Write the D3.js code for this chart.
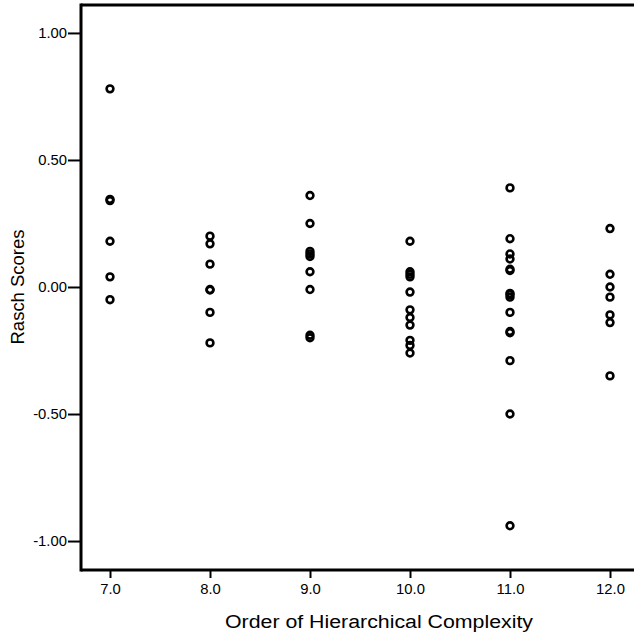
<!DOCTYPE html>
<html>
<head>
<meta charset="UTF-8" />
<script src="https://d3js.org/d3.v7.min.js"></script>
<style>
  body { margin: 0; background: #fff; }
  text { font-family: "Liberation Sans", Arial, sans-serif; }
</style>
</head>
<body>
<div id="main"></div>
<script>
// observations per order of hierarchical complexity
const order7 = [0.78, 0.34, 0.345, 0.18, 0.04, -0.05];
const order8 = [0.20, 0.17, 0.09, -0.01, -0.012, -0.10, -0.22];
const order9 = [0.36, 0.25, 0.14, 0.13, 0.12, 0.06, -0.01, -0.19, -0.20];
const order10 = [0.18, 0.06, 0.05, 0.04, -0.02, -0.09, -0.12, -0.15, -0.21, -0.23, -0.26];
const order11 = [0.39, 0.19, 0.13, 0.11, 0.07, 0.065, -0.025, -0.03, -0.04, -0.10, -0.175, -0.18, -0.29, -0.50, -0.94];
const order12 = [0.23, 0.05, 0.00, -0.04, -0.11, -0.14, -0.35];

const orders = [7, 8, 9, 10, 11, 12];
const xTickLabels = ["7.0", "8.0", "9.0", "10.0", "11.0", "12.0"];
const yTicks = [1.0, 0.5, 0.0, -0.5, -1.0];
const yTickLabels = ["1.00", "0.50", "0.00", "-0.50", "-1.00"];

const series = [order7, order8, order9, order10, order11, order12];
const points = [];
series.forEach((vals, i) => vals.forEach(v => points.push({ x: orders[i], y: v })));

const width = 634, height = 638;
const plotLeft = 81, plotTop = 5, plotBottom = 570, plotRight = 639;

const svg = d3.select("#main").append("svg")
  .attr("width", width)
  .attr("height", height);

const x = d3.scaleLinear().domain([6.71, 12.29]).range([plotLeft, plotRight]);
const y = d3.scaleLinear().domain([-1.114, 1.11]).range([plotBottom, plotTop]);

// SPSS output has slightly widened text
function widen(sel, k) {
  sel.each(function () {
    const w = this.getComputedTextLength();
    d3.select(this).attr("textLength", w * k).attr("lengthAdjust", "spacingAndGlyphs");
  });
}

// frame
svg.append("line")
  .attr("x1", plotLeft).attr("x2", width)
  .attr("y1", plotTop).attr("y2", plotTop)
  .attr("stroke", "#000").attr("stroke-width", 3);

const yAxis = svg.append("g")
  .attr("transform", `translate(${plotLeft},0)`)
  .call(d3.axisLeft(y).tickValues(yTicks).tickSize(13).tickPadding(1)
    .tickFormat((d, i) => yTickLabels[i]));
yAxis.select(".domain").remove();
yAxis.selectAll(".tick line").attr("stroke", "#000").attr("stroke-width", 2);
yAxis.selectAll("text").style("font-size", "14px").attr("fill", "#000")
  .style("font-family", "Liberation Sans, Arial, sans-serif").call(widen, 1.06);

const xAxis = svg.append("g")
  .attr("transform", `translate(0,${plotBottom})`)
  .call(d3.axisBottom(x).tickValues(orders).tickSize(8).tickPadding(6)
    .tickFormat((d, i) => xTickLabels[i]));
xAxis.select(".domain").remove();
xAxis.selectAll(".tick line").attr("stroke", "#000").attr("stroke-width", 2);
xAxis.selectAll("text").style("font-size", "14px").attr("fill", "#000")
  .style("font-family", "Liberation Sans, Arial, sans-serif").call(widen, 1.06);

svg.append("line")
  .attr("x1", plotLeft).attr("x2", plotLeft)
  .attr("y1", plotTop - 1.5).attr("y2", plotBottom + 1.5)
  .attr("stroke", "#000").attr("stroke-width", 3);
svg.append("line")
  .attr("x1", plotLeft).attr("x2", width)
  .attr("y1", plotBottom).attr("y2", plotBottom)
  .attr("stroke", "#000").attr("stroke-width", 3);

// points
svg.append("g").selectAll("circle").data(points).enter().append("circle")
  .attr("cx", d => x(d.x))
  .attr("cy", d => y(d.y))
  .attr("r", 3.4)
  .attr("fill", "none")
  .attr("stroke", "#000")
  .attr("stroke-width", 2.6);

// titles
svg.append("text")
  .attr("x", 379).attr("y", 628)
  .attr("text-anchor", "middle")
  .style("font-size", "18px")
  .attr("textLength", 308)
  .attr("lengthAdjust", "spacingAndGlyphs")
  .text("Order of Hierarchical Complexity");

svg.append("text")
  .attr("transform", `translate(24,${y(0)}) rotate(-90)`)
  .attr("text-anchor", "middle")
  .style("font-size", "18px")
  .attr("textLength", 115)
  .attr("lengthAdjust", "spacingAndGlyphs")
  .text("Rasch Scores");
</script>
</body>
</html>
